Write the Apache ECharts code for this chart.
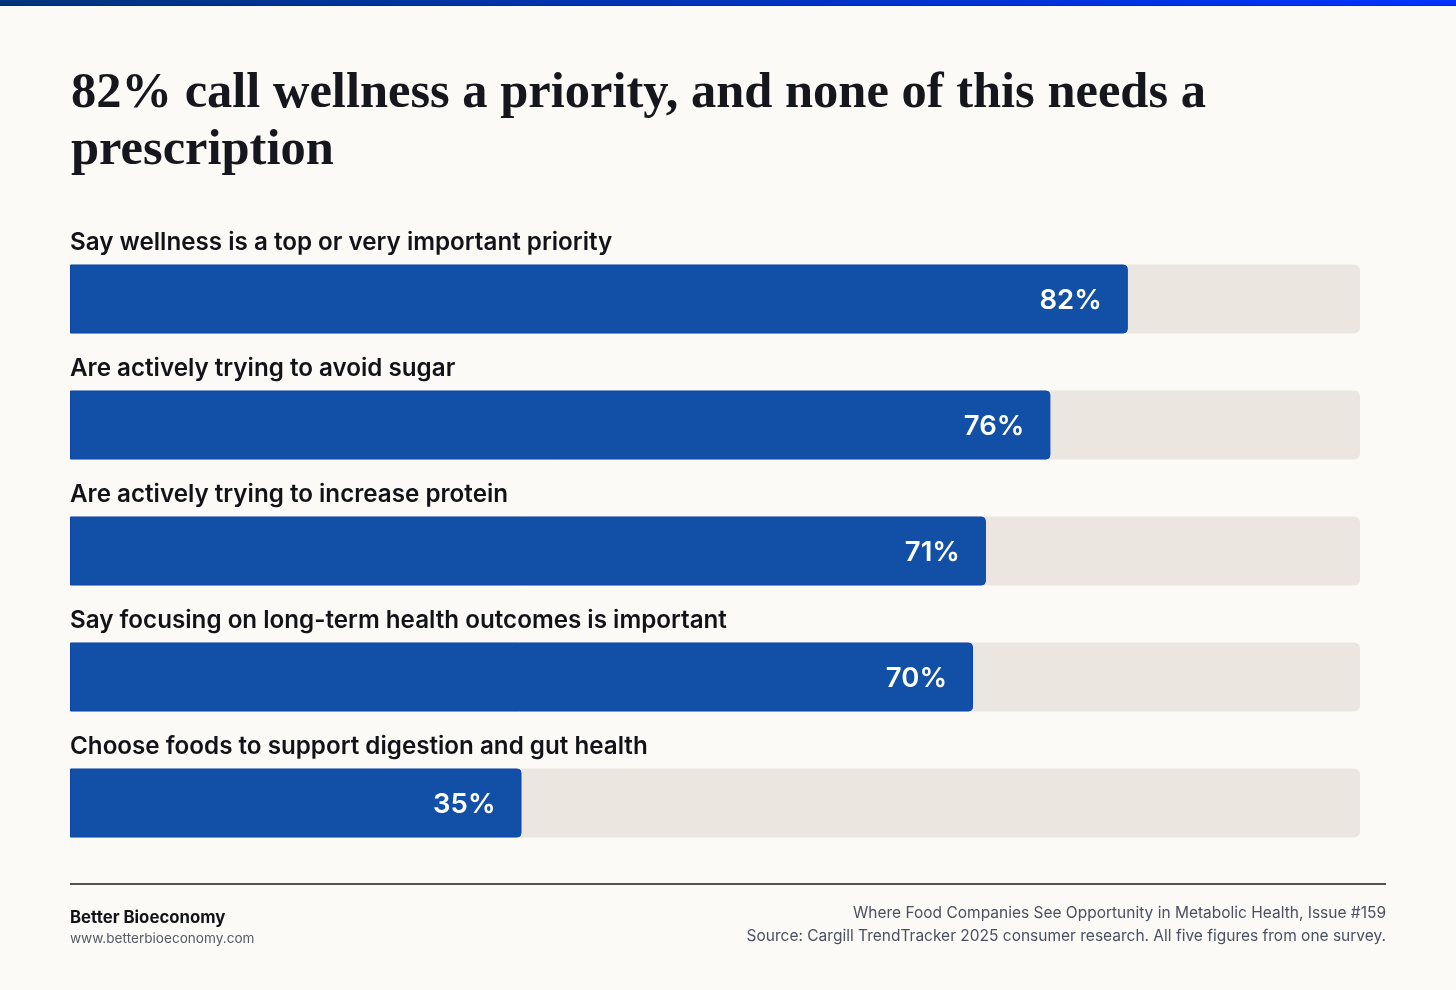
<!DOCTYPE html>
<html><head><meta charset="utf-8">
<script src="https://cdn.jsdelivr.net/npm/echarts@6/dist/echarts.min.js"></script>
<style>html,body{margin:0;padding:0;background:#fbfaf6;}#c{width:1456px;height:990px;}</style>
</head><body><div id="c"></div>
<script>
const categories = [
  "Say wellness is a top or very important priority",
  "Are actively trying to avoid sugar",
  "Are actively trying to increase protein",
  "Say focusing on long-term health outcomes is important",
  "Choose foods to support digestion and gut health"
];
const values = [82, 76, 71, 70, 35];
const titleText = "82% call wellness a priority, and none of this needs a\nprescription";
const brand = "Better Bioeconomy";
const site = "www.betterbioeconomy.com";
const sourceLines = [
  "Where Food Companies See Opportunity in Metabolic Health, Issue #159",
  "Source: Cargill TrendTracker 2025 consumer research. All five figures from one survey."
];

const chart = echarts.init(document.getElementById('c'), null, {renderer: 'canvas'});
const sans = "Inter, 'Noto Sans', sans-serif";
chart.setOption({
  backgroundColor: '#fbfaf6',
  animation: false,
  grid: {left: 70, right: 96, top: 236, height: 630},
  xAxis: {type: 'value', min: 0, max: 100, show: false},
  yAxis: {type: 'category', data: categories, inverse: true, show: false},
  series: [
    {
      type: 'bar',
      data: values,
      barWidth: 69,
      showBackground: true,
      backgroundStyle: {color: '#ebe6df', borderRadius: [0, 6, 6, 0]},
      itemStyle: {color: '#1150a6', borderColor: '#0b45b0', borderWidth: 1, borderRadius: [0, 4, 4, 0]},
      label: {
        show: true, position: 'insideRight', distance: 26, offset: [0, 2],
        formatter: p => p.value + '%',
        color: '#ffffff', fontFamily: sans, fontSize: 27.5, fontWeight: 600
      },
      z: 2
    },
    {
      type: 'scatter',
      data: categories.map((c, i) => [0, i]),
      symbolSize: 0,
      silent: true,
      itemStyle: {opacity: 1},
      label: {
        show: true, position: 'right', distance: 0, offset: [0, -56], opacity: 1,
        formatter: p => categories[p.dataIndex],
        color: '#111318', fontFamily: sans, fontSize: 24.2, fontWeight: 600
      },
      z: 3
    }
  ],
  graphic: [
    {type: 'rect', left: 0, top: 0, shape: {width: 1456, height: 6},
     style: {fill: new echarts.graphic.LinearGradient(0, 0, 1, 0, [{offset: 0, color: '#00347a'}, {offset: 1, color: '#0033ff'}])}},
    {type: 'rect', left: 0, top: 5, shape: {width: 1456, height: 1},
     style: {fill: new echarts.graphic.LinearGradient(0, 0, 1, 0, [{offset: 0, color: '#002a66'}, {offset: 1, color: '#0028d0'}])}},
    {type: 'text', left: 71, top: 65,
     style: {text: titleText, font: "bold 50.5px 'Liberation Serif', serif", fill: '#15171c', lineHeight: 57}},
    {type: 'line', shape: {x1: 70, y1: 884, x2: 1386, y2: 884}, style: {stroke: '#1a1a1a', lineWidth: 1.5}},
    {type: 'text', left: 70, top: 909, style: {text: brand, font: "bold 16.8px Inter, sans-serif", fill: '#111318'}},
    {type: 'text', left: 70, top: 932, style: {text: site, font: "13.6px Inter, sans-serif", fill: '#555b66'}},
    {type: 'text', right: 70, top: 905, style: {text: sourceLines[0], font: "15.5px Inter, sans-serif", fill: '#4a5060', align: 'right'}},
    {type: 'text', right: 70, top: 928, style: {text: sourceLines[1], font: "15.5px Inter, sans-serif", fill: '#4a5060', align: 'right'}}
  ]
});
</script></body></html>
